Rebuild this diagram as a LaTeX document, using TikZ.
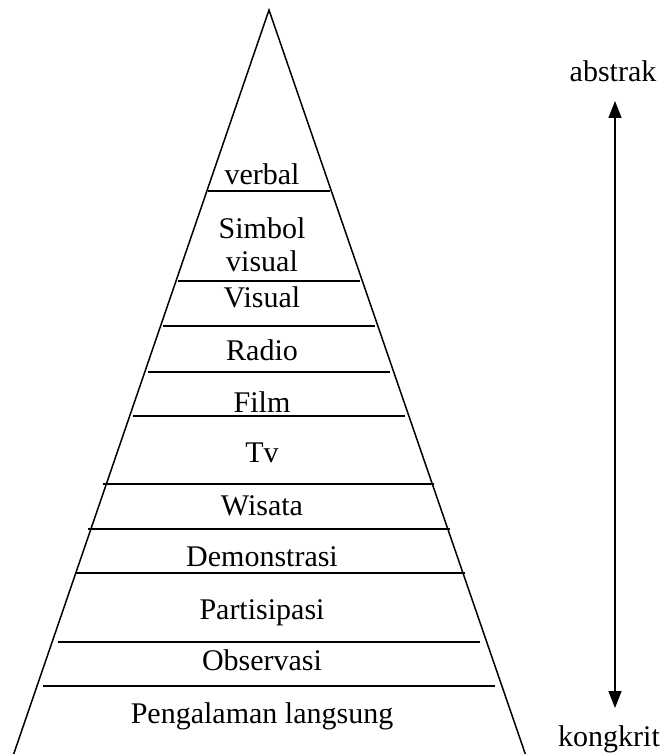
\documentclass[tikz,border=0pt]{standalone}
\usepackage{fontspec}
\setmainfont{Liberation Serif}
\usetikzlibrary{arrows.meta}
\tikzset{
	edge/.style={line width=1.5pt}, % lines of the pyramid
	level/.style={anchor=base, inner sep=0pt, align=center, font=\fontsize{30}{33}\selectfont}, % text of a layer
	>={Triangle[width=13pt,length=17pt]}
}

\begin{document}
\begin{tikzpicture}[x=1pt,y=-1pt]
	\useasboundingbox (0,0) rectangle (664,754);
	\coordinate (apex) at (269,10);
	\coordinate (bl) at (13,756);
	\coordinate (br) at (526,756);
	\draw[edge, line join=miter] (bl) -- (apex) -- (br);
	% layer lines
	\foreach \y/\l/\r [count=\i] in {191/208/330, 281/178/360, 326/163/375, 372/148/390, 416/133/405, 484/103/434, 529/88/450, 573/75/465, 642/58/480, 686/43/495}
	{
		\coordinate (l\i) at (\l,\y);
		\coordinate (r\i) at (\r,\y);
		\draw[edge] (l\i) -- (r\i);
	}
	% layer labels (base of a two line node is its last line)
	\node[level] (verbal) at (262,185) {verbal};
	\node[level] (simbol) at (262,271) {Simbol\\visual};
	\node[level] (visual) at (262,307) {Visual};
	\node[level] (radio) at (262,360) {Radio};
	\node[level] (film) at (262,412) {Film};
	\node[level] (tv) at (262,462) {Tv};
	\node[level] (wisata) at (262,515) {Wisata};
	\node[level] (demo) at (262,566) {Demonstrasi};
	\node[level] (partisipasi) at (262,619) {Partisipasi};
	\node[level] (observasi) at (262,670) {Observasi};
	\node[level] (pengalaman) at (262,723) {Pengalaman langsung};
	% side arrow
	\node[level] (abstrak) at (613,82) {abstrak};
	\node[level] (kongkrit) at (609,746) {kongkrit};
	\coordinate (top) at (615,101);
	\coordinate (bot) at (615,708);
	\draw[edge, <->] (top) -- (bot);
\end{tikzpicture}
\end{document}
